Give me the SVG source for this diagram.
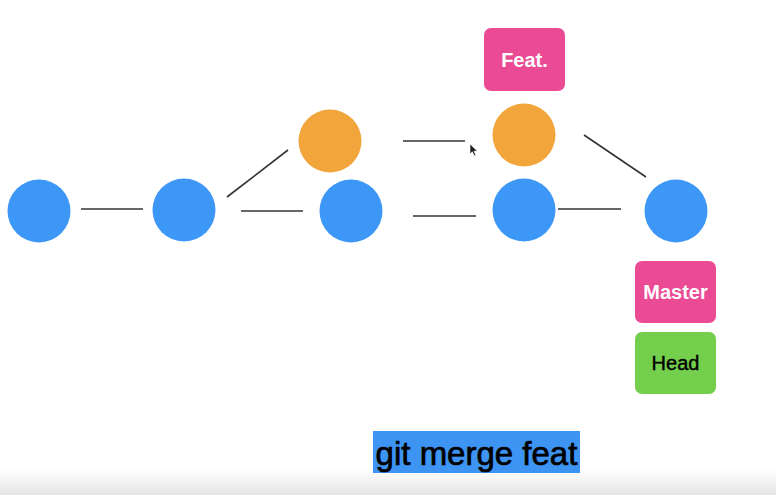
<svg xmlns="http://www.w3.org/2000/svg" width="776" height="495" viewBox="0 0 776 495">
<defs>
<linearGradient id="bot" x1="0" y1="0" x2="0" y2="1">
<stop offset="0" stop-color="#ffffff"/>
<stop offset="1" stop-color="#e6e6e6"/>
</linearGradient>
</defs>
<style>
.blue{fill:#3d97f6}
.orange{fill:#f2a53a}
.edge{stroke:#333333;stroke-width:1.6;fill:none}
.pink{fill:#ea4b94}
.green{fill:#74cf4c}
.lbl{font-family:"Liberation Sans",Arial,sans-serif;font-size:20px;text-anchor:middle}
</style>
<rect x="0" y="0" width="776" height="495" fill="#ffffff"/>
<rect x="0" y="468" width="776" height="27" fill="url(#bot)"/>
<g id="connectors">
<line class="edge" x1="81" y1="209" x2="143" y2="209"/>
<line class="edge" x1="227" y1="197" x2="288" y2="150"/>
<line class="edge" x1="241" y1="211" x2="303" y2="211"/>
<line class="edge" x1="403" y1="141" x2="465" y2="141"/>
<line class="edge" x1="413" y1="216" x2="476" y2="216"/>
<line class="edge" x1="558" y1="209" x2="621" y2="209"/>
<line class="edge" x1="584" y1="135" x2="646" y2="177"/>
</g>
<g id="c1"><circle class="blue" cx="39" cy="211" r="31.5"/></g>
<g id="c2"><circle class="blue" cx="184" cy="210" r="31.5"/></g>
<g id="c3"><circle class="blue" cx="351" cy="211" r="31.5"/></g>
<g id="c4"><circle class="blue" cx="524" cy="210" r="31.5"/></g>
<g id="c5"><circle class="blue" cx="676" cy="211" r="31.5"/></g>
<g id="f1"><circle class="orange" cx="330" cy="141" r="31.5"/></g>
<g id="f2"><circle class="orange" cx="524" cy="135" r="31.5"/></g>
<g id="feat">
<rect class="pink" x="484" y="28" width="81" height="63" rx="7"/>
<text class="lbl" x="524.5" y="67" fill="#ffffff" font-weight="bold" font-size="19">Feat.</text>
</g>
<g id="master">
<rect class="pink" x="635" y="261" width="81" height="62" rx="7"/>
<text class="lbl" x="675.5" y="299" fill="#ffffff" font-weight="bold">Master</text>
</g>
<g id="head">
<rect class="green" x="635" y="332" width="81" height="62" rx="7"/>
<text class="lbl" x="675.5" y="370" fill="#000000" stroke="#000000" stroke-width="0.4">Head</text>
</g>
<g id="command">
<rect x="373" y="431" width="207" height="42" fill="#3d94f3"/>
<text x="476.5" y="465" font-family="'Liberation Sans',Arial,sans-serif" font-size="33" text-anchor="middle" fill="#000000" stroke="#000000" stroke-width="0.7">git merge feat</text>
</g>
<g id="cursor">
<path d="M470 144 L470 154 L472.4 151.8 L474.1 155.8 L475.7 155.1 L474.1 151.2 L477.2 150.9 Z" fill="#222222" stroke="#ffffff" stroke-width="0.6"/>
</g>
</svg>
